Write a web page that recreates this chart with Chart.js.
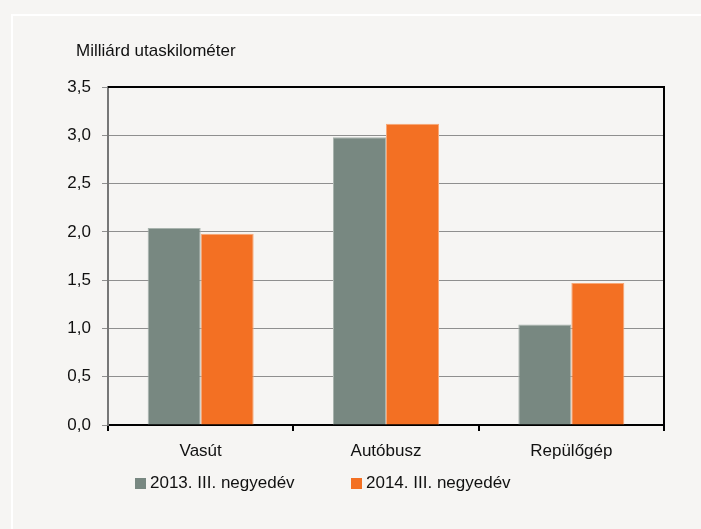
<!DOCTYPE html>
<html>
<head>
<meta charset="utf-8">
<script src="https://cdn.jsdelivr.net/npm/chart.js@4/dist/chart.umd.min.js"></script>
<style>
    body { margin: 0; background: #f6f5f3; font-family: 'Liberation Sans', Arial, sans-serif; }
    #wrap { position: relative; width: 701px; height: 529px; overflow: hidden; }
    #frame { position: absolute; left: 11px; top: 14px; right: -5px; bottom: -5px;
             border-top: 2px solid #fff; border-left: 2px solid #fff; }
    #unit { position: absolute; left: 76px; top: 41px; font-size: 17px; color: #111; }
    #legend { position: absolute; top: 473px; left: 0; font-size: 17px; color: #111; }
    .item { position: absolute; white-space: nowrap; }
    .box { display: inline-block; width: 11px; height: 11px; margin-right: 4px; vertical-align: -1px; }
    canvas { position: absolute; left: 0; top: 0; }
</style>
</head>
<body>
<div id="wrap">
    <div id="frame"></div>
    <canvas id="chart" width="701" height="529"></canvas>
    <div id="unit">Milliárd utaskilométer</div>
    <div id="legend"></div>
</div>
<script>
// Data
const categories = ['Vasút', 'Autóbusz', 'Repülőgép'];
const values2013 = [2.04, 2.98, 1.04];
const values2014 = [1.98, 3.12, 1.47];
const seriesLabels = ['2013. III. negyedév', '2014. III. negyedév'];
const seriesColors = ['#788881', '#f37023'];

const fontFamily = "'Liberation Sans', Arial, sans-serif";

// black top and right edge of the plot
const frameEdges = {
    id: 'frameEdges',
    afterDraw(chart) {
        const { ctx, chartArea: a } = chart;
        ctx.save();
        ctx.strokeStyle = '#000';
        ctx.lineWidth = 2;
        ctx.beginPath();
        ctx.moveTo(a.left, a.top);
        ctx.lineTo(a.right, a.top);
        ctx.lineTo(a.right, a.bottom);
        ctx.stroke();
        ctx.restore();
    }
};

const ctx = document.getElementById('chart').getContext('2d');
const chart = new Chart(ctx, {
    type: 'bar',
    data: {
        labels: categories,
        datasets: [values2013, values2014].map((vals, i) => ({
            label: seriesLabels[i],
            data: vals,
            backgroundColor: seriesColors[i],
            borderColor: ['#a9b4ae', '#f8a877'][i],
            borderWidth: { top: 1, left: 1, right: 1, bottom: 0 },
            categoryPercentage: 0.572,
            barPercentage: 1
        }))
    },
    options: {
        responsive: false,
        animation: false,
        layout: { padding: { top: 87, right: 37, left: 0, bottom: 0 } },
        plugins: {
            legend: { display: false },
            tooltip: { enabled: false }
        },
        scales: {
            x: {
                afterFit: s => { s.height = 104; },
                grid: { offset: true, drawOnChartArea: false, color: '#000', lineWidth: 2, tickLength: 6 },
                border: { color: '#000', width: 2 },
                ticks: { color: '#111', font: { family: fontFamily, size: 17 }, padding: 10 }
            },
            y: {
                min: 0,
                max: 3.5,
                afterFit: s => { s.width = 108; },
                grid: { color: '#8f8f8f', lineWidth: 1, tickLength: 6 },
                border: { color: '#777', width: 2 },
                ticks: {
                    stepSize: 0.5,
                    color: '#111',
                    padding: 11,
                    font: { family: fontFamily, size: 17 },
                    callback: v => v.toFixed(1).replace('.', ',')
                }
            }
        }
    },
    plugins: [frameEdges]
});

// Legend built from the datasets
const legend = document.getElementById('legend');
const legendX = [135, 351];
chart.data.datasets.forEach((ds, i) => {
    const item = document.createElement('div');
    item.className = 'item';
    item.style.left = legendX[i] + 'px';
    item.innerHTML = `<span class="box" style="background:${ds.backgroundColor}"></span>${ds.label}`;
    legend.appendChild(item);
});
</script>
</body>
</html>
